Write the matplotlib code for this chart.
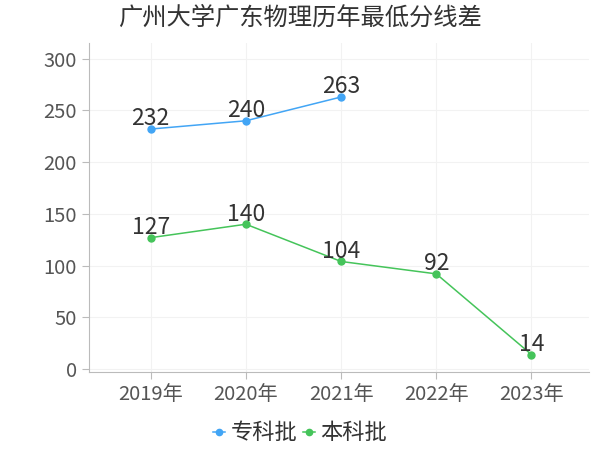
import matplotlib
matplotlib.use("Agg")
import matplotlib.pyplot as plt

plt.rcParams['font.family'] = ['Noto Sans CJK SC', 'DejaVu Sans']

years = ['2019年', '2020年', '2021年', '2022年', '2023年']
zhuanke = [232, 240, 263]
benke = [127, 140, 104, 92, 14]
title = '广州大学广东物理历年最低分线差'

blue = '#42a5f5'
green = '#45c45a'

fig = plt.figure(figsize=(6, 4.5), dpi=100)
ax = fig.add_axes([0.148, 0.173, 0.833, 0.731])

x1 = list(range(len(zhuanke)))
x2 = list(range(len(benke)))
ax.plot(x1, zhuanke, color=blue, lw=1.1, marker='o', ms=5, label='专科批', zorder=3)
ax.plot(x2, benke, color=green, lw=1.1, marker='o', ms=5, label='本科批', zorder=3)

for xs, vals in [(x1, zhuanke), (x2, benke)]:
    for x, v in zip(xs, vals):
        ax.annotate(str(v), (x, v), xytext=(0, -1), textcoords='offset points',
                    ha='center', va='bottom', fontsize=16.5, color='#333333')

ax.set_xticks(range(len(years)))
ax.set_xticklabels(years)
ax.set_yticks(range(0, 301, 50))
ax.set_xlim(-0.65, 4.6)
ax.set_ylim(-3, 315)

ax.grid(True, color='#f2f2f2', lw=0.8)
ax.set_axisbelow(True)
for s in ['top', 'right']:
    ax.spines[s].set_visible(False)
for s in ['left', 'bottom']:
    ax.spines[s].set_color('#bbbbbb')
ax.tick_params(colors='#bbbbbb', labelcolor='#555555', labelsize=14.5, length=5)

fig.text(0.5, 0.96, title, ha='center', va='center', fontsize=17.5, color='#333333')

fig.legend(loc='center', bbox_to_anchor=(0.5, 0.038), ncol=2, frameon=False,
           fontsize=16, handlelength=0.55, handletextpad=0.25, columnspacing=0.25,
           labelcolor='#333333', markerscale=0.9)

fig.savefig('out.png', dpi=100)
